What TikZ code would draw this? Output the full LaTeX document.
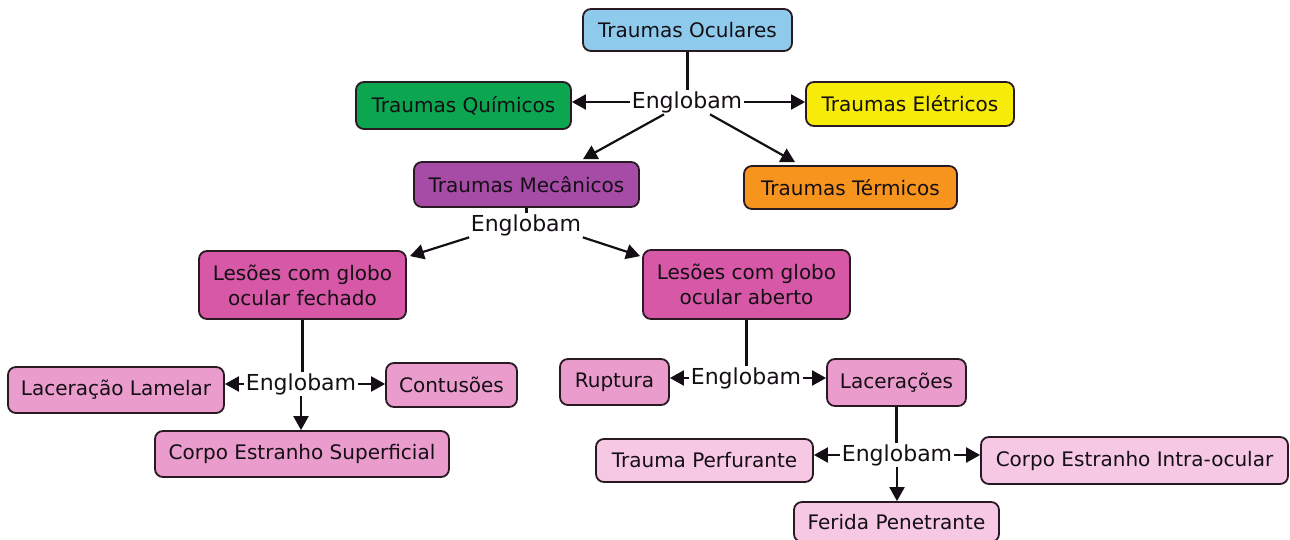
\documentclass[tikz,border=0pt]{standalone}
\usepackage{fontspec}
\setmainfont{DejaVu Sans}
\usetikzlibrary{arrows.meta}

\definecolor{boxline}{RGB}{40,25,35}
\definecolor{inktext}{RGB}{20,15,20}
\definecolor{cBlue}{RGB}{142,202,236}
\definecolor{cGreen}{RGB}{12,166,80}
\definecolor{cYellow}{RGB}{246,236,8}
\definecolor{cPurple}{RGB}{166,76,166}
\definecolor{cOrange}{RGB}{247,148,30}
\definecolor{cMagenta}{RGB}{214,88,166}
\definecolor{cPink}{RGB}{234,156,204}
\definecolor{cLight}{RGB}{246,200,228}

\begin{document}
\begin{tikzpicture}[x=1pt,y=1pt,
  box/.style={draw=boxline, line width=1.8pt, rounded corners=8pt,
    inner sep=0pt, text=inktext, align=center,
    font=\fontsize{20}{25}\selectfont},
  lbl/.style={inner sep=1.5pt, text=inktext, font=\fontsize{22}{24}\selectfont},
  link/.style={draw=inktext, line width=2.2pt},
  arr/.style={link, -{Triangle[length=14pt,width=15pt]}}]
\useasboundingbox (0,0) rectangle (1290,-540);

% top level
\node[box, fill=cBlue, minimum width=209pt, minimum height=42pt] (oc) at (687.5,-30) {Traumas Oculares};
\node[lbl] (e1) at (687,-102) {Englobam};
\node[box, fill=cGreen, minimum width=215pt, minimum height=47pt] (qui) at (463.5,-105.5) {Traumas Químicos};
\node[box, fill=cYellow, minimum width=208pt, minimum height=44pt] (ele) at (910,-104) {Traumas Elétricos};
\node[box, fill=cPurple, minimum width=225pt, minimum height=45pt] (mec) at (526.5,-184.5) {Traumas Mecânicos};
\node[box, fill=cOrange, minimum width=213pt, minimum height=43pt] (ter) at (850.5,-187.5) {Traumas Térmicos};

% mechanical injuries
\node[lbl] (e2) at (526,-225) {Englobam};
\node[box, fill=cMagenta, minimum width=207pt, minimum height=68pt] (lf) at (302.5,-285) {Lesões com globo\\ocular fechado};
\node[box, fill=cMagenta, minimum width=207pt, minimum height=69pt] (la) at (746.5,-284.5) {Lesões com globo\\ocular aberto};

% closed globe
\node[lbl] (e3) at (301,-384) {Englobam};
\node[box, fill=cPink, minimum width=216pt, minimum height=46pt] (ll) at (116,-390) {Laceração Lamelar};
\node[box, fill=cPink, minimum width=131pt, minimum height=44pt] (con) at (451.5,-385) {Contusões};
\node[box, fill=cPink, minimum width=294pt, minimum height=46pt] (ces) at (302,-454) {Corpo Estranho Superficial};

% open globe
\node[lbl] (e4) at (746,-378) {Englobam};
\node[box, fill=cPink, minimum width=109pt, minimum height=46pt] (rup) at (614.5,-382) {Ruptura};
\node[box, fill=cPink, minimum width=139pt, minimum height=47pt] (lac) at (896.5,-382.5) {Lacerações};

% lacerations
\node[lbl] (e5) at (897,-455) {Englobam};
\node[box, fill=cLight, minimum width=217pt, minimum height=43pt] (tp) at (704.5,-460.5) {Trauma Perfurante};
\node[box, fill=cLight, minimum width=307pt, minimum height=47pt] (ceio) at (1134.5,-460.5) {Corpo Estranho Intra-ocular};
\node[box, fill=cLight, minimum width=205pt, minimum height=40pt] (fp) at (896.5,-522) {Ferida Penetrante};

% connectors
\draw[link] (oc.south) -- (oc.south |- e1.north);
\draw[arr] (e1.west) -- (e1.west -| qui.east);
\draw[arr] (e1.east) -- (e1.east -| ele.west);
\draw[arr] ([xshift=-23pt]e1.south) -- ([xshift=56.5pt,yshift=2pt]mec.north);
\draw[arr] ([xshift=23pt]e1.south) -- ([xshift=-55.5pt,yshift=3pt]ter.north);

\draw[link] (mec.south) -- (mec.south |- e2.north);
\draw[arr] (e2.south west) -- ([shift={(3pt,-6pt)}]lf.north east);
\draw[arr] (e2.south east) -- ([shift={(-2pt,-7pt)}]la.north west);

\draw[link] (lf.south) -- (lf.south |- e3.north);
\draw[arr] (e3.west) -- (e3.west -| ll.east);
\draw[arr] (e3.east) -- (e3.east -| con.west);
\draw[arr] (e3.south) -- (e3.south |- ces.north);

\draw[link] (la.south) -- (la.south |- e4.north);
\draw[arr] (e4.west) -- (e4.west -| rup.east);
\draw[arr] (e4.east) -- (e4.east -| lac.west);

\draw[link] (lac.south) -- (lac.south |- e5.north);
\draw[arr] (e5.west) -- (e5.west -| tp.east);
\draw[arr] (e5.east) -- (e5.east -| ceio.west);
\draw[arr] (e5.south) -- (e5.south |- fp.north);
\end{tikzpicture}
\end{document}
